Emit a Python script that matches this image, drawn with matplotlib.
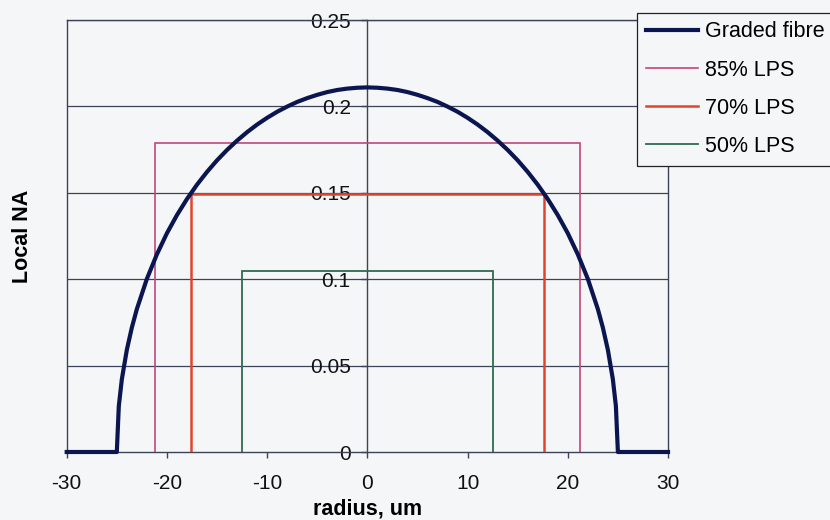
import matplotlib
matplotlib.use("Agg")
import matplotlib.pyplot as plt

# ---- data ----
radius = [-30, -25, -24.8, -24.5, -24, -23.5, -23, -22, -21, -20, -19, -18, -17, -16, -15,
          -14, -13, -12, -11, -10, -9, -8, -7, -6, -5, -4, -3, -2, -1, 0,
          1, 2, 3, 4, 5, 6, 7, 8, 9, 10, 11, 12, 13, 14, 15, 16, 17, 18, 19, 20,
          21, 22, 23, 23.5, 24, 24.5, 24.8, 25, 30]
graded_na = [0, 0, 0.0266, 0.0420, 0.0591, 0.0720, 0.0827, 0.1002, 0.1144, 0.1266, 0.1371,
             0.1464, 0.1547, 0.1621, 0.1688, 0.1748, 0.1802, 0.1851, 0.1895, 0.1934, 0.1969,
             0.1999, 0.2026, 0.2048, 0.2067, 0.2083, 0.2095, 0.2103, 0.2108, 0.2110,
             0.2108, 0.2103, 0.2095, 0.2083, 0.2067, 0.2048, 0.2026, 0.1999, 0.1969, 0.1934,
             0.1895, 0.1851, 0.1802, 0.1748, 0.1688, 0.1621, 0.1547, 0.1464, 0.1371, 0.1266,
             0.1144, 0.1002, 0.0827, 0.0720, 0.0591, 0.0420, 0.0266, 0, 0]

lps_labels = ["85% LPS", "70% LPS", "50% LPS"]
lps_radius = [21.2, 17.6, 12.5]
lps_na = [0.1786, 0.1493, 0.1047]
lps_colors = ["#C2457E", "#E0452C", "#2F6B52"]
lps_widths = [1.2, 1.8, 1.3]

xticks = [-30, -20, -10, 0, 10, 20, 30]
yticks = [0, 0.05, 0.1, 0.15, 0.2, 0.25]
ytick_labels = ["0", "0.05", "0.1", "0.15", "0.2", "0.25"]

bg = "#F5F6F8"
axis_col = "#3C4258"

plt.rcParams['font.family'] = ['Liberation Sans', 'DejaVu Sans']

fig = plt.figure(figsize=(8.3, 5.2), dpi=100, facecolor=bg)
ax = fig.add_axes([66.7/830, 1-452/520, (668-66.7)/830, (452-20)/520])
ax.set_facecolor(bg)

ax.set_xlim(-30, 30)
ax.set_ylim(0, 0.25)

# gridlines
for yv in yticks[1:]:
    ax.axhline(yv, color=axis_col, lw=0.9, zorder=1)

# LPS rectangles
lps_lines = []
for lab, r, na, c, w in zip(lps_labels, lps_radius, lps_na, lps_colors, lps_widths):
    ln, = ax.plot([-r, -r, r, r], [0, na, na, 0], color=c, lw=w, label=lab, zorder=3,
                  solid_joinstyle='miter')
    lps_lines.append(ln)

# graded fibre
gline, = ax.plot(radius, graded_na, color="#0B1650", lw=3.0, label="Graded fibre", zorder=4,
                 clip_on=False)

# axes / frame
ax.spines['left'].set_position(('data', 0))
for s in ['left', 'right', 'top', 'bottom']:
    ax.spines[s].set_color(axis_col)
    ax.spines[s].set_linewidth(1.0)
ax.plot([0, 0], [0, 1], transform=ax.transAxes, color=axis_col, lw=1.0, clip_on=False, zorder=2)

ax.set_xticks(xticks)
ax.set_xticklabels([str(t) for t in xticks])
ax.set_yticks(yticks)
ax.set_yticklabels(ytick_labels)
ax.tick_params(axis='x', direction='out', length=4, width=1, color=axis_col, pad=11.5,
               labelsize=15, labelcolor='#111111')
ax.tick_params(axis='y', direction='out', length=4, width=1, color=axis_col, pad=8,
               labelsize=15, labelcolor='#111111')

ax.set_xlabel("radius, um", fontsize=15.5, fontweight='bold', labelpad=4)
fig.text(23/830, 1-236/520, "Local NA", rotation=90, ha='center', va='center',
         fontsize=15.5, fontweight='bold')

leg = fig.legend(handles=[gline] + lps_lines, labels=["Graded fibre"] + lps_labels,
                 loc='upper left', bbox_to_anchor=(637/830, 1-12.7/520),
                 bbox_transform=fig.transFigure, fontsize=15.5, frameon=True, fancybox=False,
                 edgecolor='#222222', facecolor=bg, framealpha=1, borderpad=0.4,
                 handlelength=2.45, handletextpad=0.33, labelspacing=0.8, borderaxespad=0)
leg.get_frame().set_linewidth(0.9)
leg.set_zorder(10)

fig.savefig("out.png", dpi=100, facecolor=bg)
